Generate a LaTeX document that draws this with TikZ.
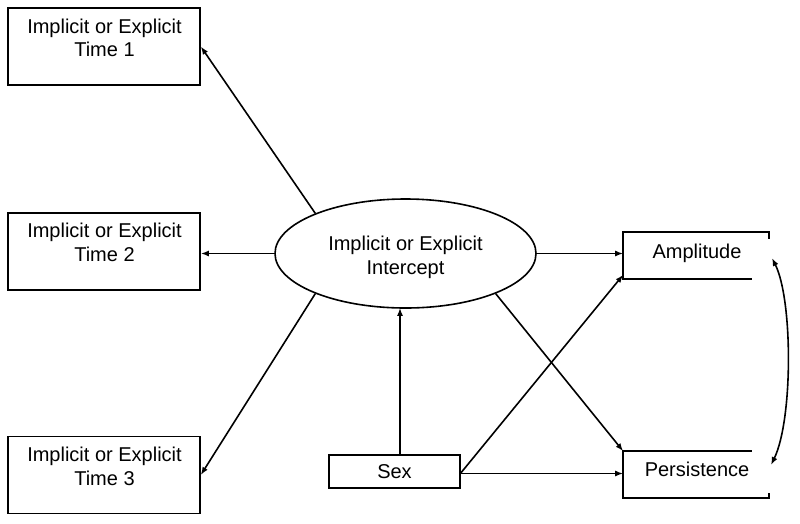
\documentclass[tikz,border=0pt]{standalone}
\usepackage{fontspec}
\setmainfont{Liberation Sans}
\usetikzlibrary{arrows.meta,shapes.geometric}
\begin{document}
\begin{tikzpicture}[x=1pt,y=-1pt,
  line width=1.6pt,
  lbl/.style={font=\fontsize{20}{23.5}\selectfont, align=center, inner sep=0pt},
  tbox/.style={draw, rectangle, minimum width=192pt, minimum height=77pt, inner sep=0pt},
  pbox/.style={rectangle, minimum width=144pt, minimum height=45pt, inner sep=0pt},
  arr/.style={-{Latex[length=8pt,width=6pt]}},
  darr/.style={{Latex[length=8pt,width=6pt]}-{Latex[length=8pt,width=6pt]}}]
\useasboundingbox (0,0) rectangle (800,523);
% shapes
\node[tbox] (t1) at (104,46.5) {};
\node[tbox] (t2) at (104,251.5) {};
\node[tbox] (t3) at (104,475) {};
\node[draw, ellipse, minimum width=261pt, minimum height=109pt, inner sep=0pt] (ell) at (405.5,253.5) {};
\node[draw, rectangle, minimum width=131pt, minimum height=33pt, inner sep=0pt, font=\fontsize{20}{23.5}\selectfont] (sex) at (394.5,471.5) {Sex};
\node[pbox] (amp) at (696,255.5) {};
\node[pbox] (per) at (696,474.5) {};
% texts
\node[lbl] (t1l) at (104.5,37.9) {Implicit or Explicit\\Time 1};
\node[lbl] (t2l) at (104.5,242.5) {Implicit or Explicit\\Time 2};
\node[lbl] (t3l) at (104.5,466.2) {Implicit or Explicit\\Time 3};
\node[lbl] (elll) at (405.5,257.3) {Implicit or Explicit\\Intercept};
\node[lbl] (ampl) at (697,253.5) {Amplitude};
\node[lbl] (perl) at (697,469.8) {Persistence};
% open boxes
\draw ([xshift=-17pt]amp.south east) -- (amp.south west) -- (amp.north west) -- (amp.north east) -- ([yshift=-7pt]amp.north east);
\draw ([xshift=-17pt]per.north east) -- (per.north west) -- (per.south west) -- (per.south east) -- ([yshift=5pt]per.south east);
% connectors
\draw[arr] (ell.156.5) -- (t1.east);
\draw[arr] (ell.west) -- (ell.west -| t2.east);
\draw[arr] (ell.204.5) -- (t3.east);
\draw[arr] (ell.east) -- (ell.east -| amp.west);
\draw[arr] (ell.336.5) -- (per.north west);
\draw[arr] ([xshift=5.5pt]sex.north) -- ([xshift=5.5pt,yshift=1pt]sex.north |- ell.south);
\draw[arr] ([yshift=-1.5pt]sex.east) -- ([yshift=4pt]amp.south west);
\draw[arr] ([yshift=-2pt]sex.east) -- ([yshift=-2pt]sex.east -| per.west);
\coordinate (cA) at (772,258);
\coordinate (cB) at (771,465);
\draw[darr] (cA) .. controls (793,300) and (793,420) .. (cB);
\end{tikzpicture}
\end{document}
